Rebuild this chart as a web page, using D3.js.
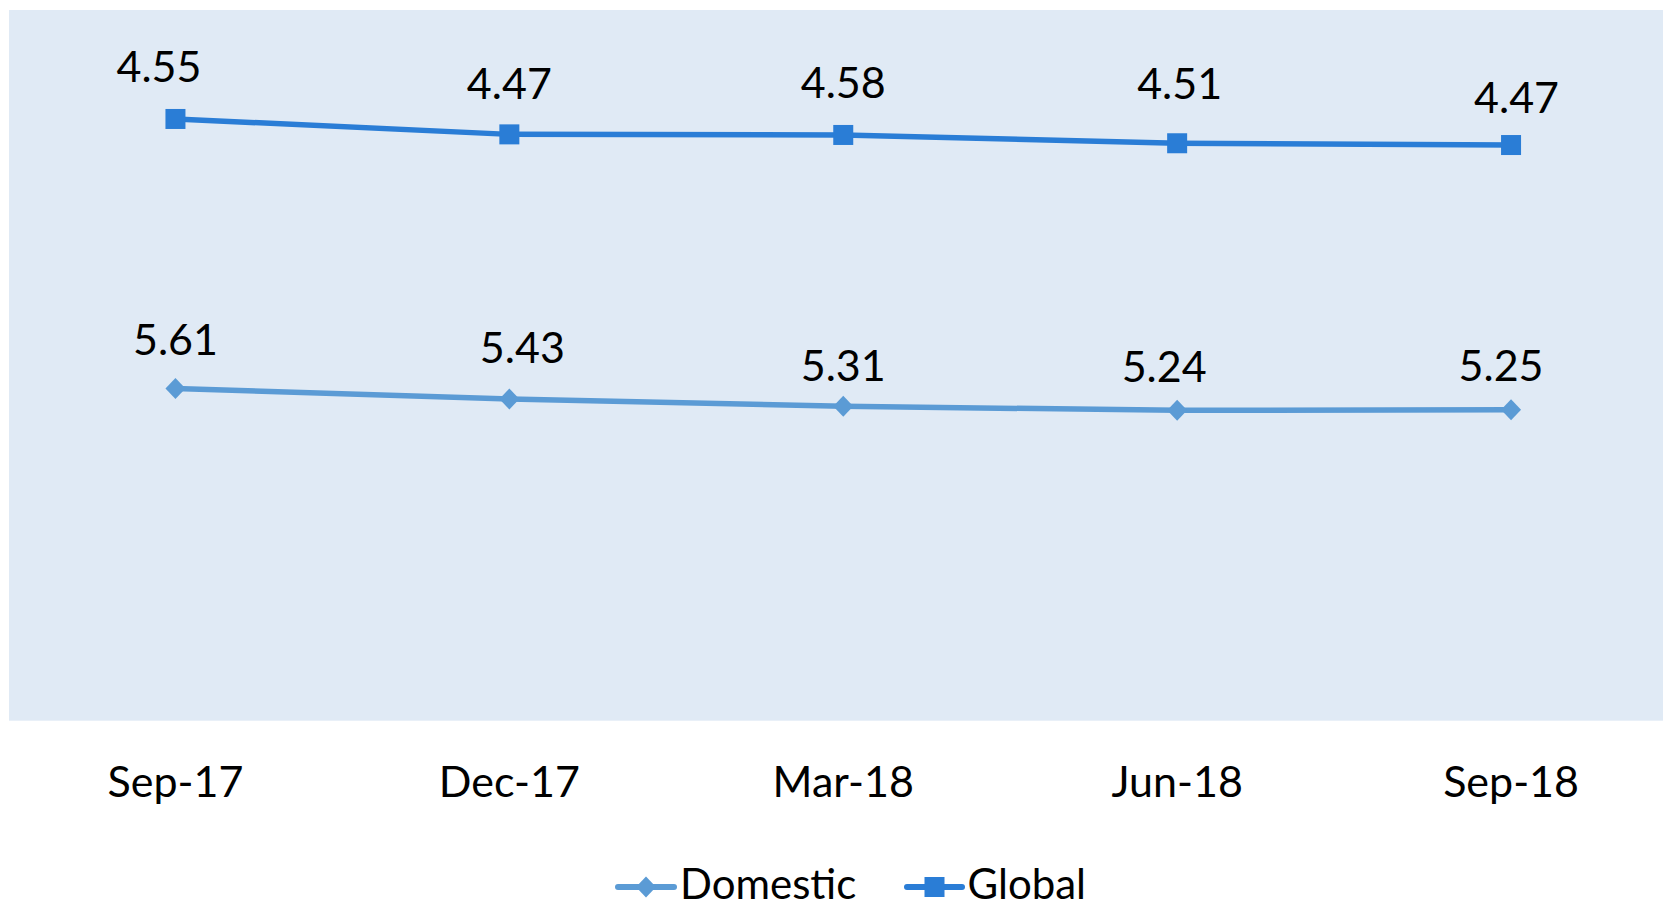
<!DOCTYPE html>
<html>
<head>
<meta charset="utf-8">
<script src="https://cdn.jsdelivr.net/npm/d3@7"></script>
<style>
  html, body { margin: 0; padding: 0; background: #ffffff; }
  svg { display: block; }
  text { font-family: Lato, "Open Sans", sans-serif; fill: #000; }
</style>
</head>
<body>
<svg id="chart" width="1663" height="908"></svg>
<script>
// ---- data ----
const categories = ["Sep-17", "Dec-17", "Mar-18", "Jun-18", "Sep-18"];
const seriesNames = ["Domestic", "Global"];
const domestic = [5.61, 5.43, 5.31, 5.24, 5.25];
const global = [4.55, 4.47, 4.58, 4.51, 4.47];
const yDomain = [0, 12];

// label nudges (pixels, relative to marker centre), as placed in the original
const labelOffsetDomestic = [[0, -49], [13, -52], [0, -41], [-13, -44], [-10, -44]];
const labelOffsetGlobal = [[-16.5, -52], [0, -51], [0, -52], [2.5, -60], [5.5, -47]];

// ---- layout ----
const W = 1663, H = 908;
const plot = { left: 9, top: 10, bottom: 720.7 };
const colors = { Domestic: "#5b9bd5", Global: "#2a7dd6" };

const svg = d3.select("#chart");

const x = d3.scaleBand().domain(categories).range([8.5, 8.5 + 5 * 333.9]).padding(0);
const cx = d => x(d) + x.bandwidth() / 2;
const y = d3.scaleLinear().domain(yDomain).range([plot.bottom, plot.top]);

// background of plot area
svg.append("rect")
  .attr("x", plot.left).attr("y", plot.top)
  .attr("width", W - plot.left).attr("height", plot.bottom - plot.top)
  .attr("fill", "#e0eaf5");

// stacked data
const table = categories.map((c, i) => ({ cat: c, Domestic: domestic[i], Global: global[i] }));
const stacked = d3.stack().keys(seriesNames)(table);

const line = d3.line().x(d => cx(d.data.cat)).y(d => y(d[1]));

const offsets = { Domestic: labelOffsetDomestic, Global: labelOffsetGlobal };

stacked.forEach(s => {
  const name = s.key;
  const g = svg.append("g");
  g.append("path").datum(s)
    .attr("d", line)
    .attr("fill", "none")
    .attr("stroke", colors[name])
    .attr("stroke-width", 5.5)
    .attr("stroke-linejoin", "round");

  if (name === "Domestic") {
    g.selectAll("path.m").data(s).join("path").attr("class", "m")
      .attr("d", "M0,-10.5L10,0L0,10.5L-10,0Z")
      .attr("transform", d => `translate(${cx(d.data.cat)},${y(d[1])})`)
      .attr("fill", colors[name]);
  } else {
    g.selectAll("rect.m").data(s).join("rect").attr("class", "m")
      .attr("x", d => cx(d.data.cat) - 10).attr("y", d => y(d[1]) - 10)
      .attr("width", 20).attr("height", 20)
      .attr("fill", colors[name]);
  }

  g.selectAll("text.lbl").data(s).join("text").attr("class", "lbl")
    .attr("x", (d, i) => cx(d.data.cat) + offsets[name][i][0])
    .attr("y", (d, i) => y(d[1]) + offsets[name][i][1] + 15.4)
    .attr("text-anchor", "middle")
    .attr("font-size", 43)
    .text(d => d.data[name].toFixed(2));
});

// x axis labels
const xAxis = d3.axisBottom(x).tickSize(0).tickPadding(0);
const ax = svg.append("g").attr("transform", `translate(0,${plot.bottom})`).call(xAxis);
ax.select(".domain").remove();
ax.selectAll("text")
  .attr("font-size", 43)
  .attr("font-family", "Lato, 'Open Sans', sans-serif")
  .attr("fill", "#000")
  .attr("dy", 0)
  .attr("y", 796.8 - plot.bottom);

// legend
const legendItems = [
  { name: "Domestic", x0: 618, x1: 674, tx: 680 },
  { name: "Global", x0: 907, x1: 962, tx: 967.5 }
];
const ly = 887;
const lg = svg.append("g");
legendItems.forEach(it => {
  lg.append("line")
    .attr("x1", it.x0).attr("x2", it.x1).attr("y1", ly).attr("y2", ly)
    .attr("stroke", colors[it.name]).attr("stroke-width", 6).attr("stroke-linecap", "round");
  const mx = (it.x0 + it.x1) / 2;
  if (it.name === "Domestic") {
    lg.append("path").attr("d", "M0,-10.5L10,0L0,10.5L-10,0Z")
      .attr("transform", `translate(${mx},${ly})`).attr("fill", colors[it.name]);
  } else {
    lg.append("rect").attr("x", mx - 10).attr("y", ly - 10).attr("width", 20).attr("height", 20)
      .attr("fill", colors[it.name]);
  }
  lg.append("text").attr("x", it.tx).attr("y", 899).attr("font-size", 42).text(it.name);
});
</script>
</body>
</html>
